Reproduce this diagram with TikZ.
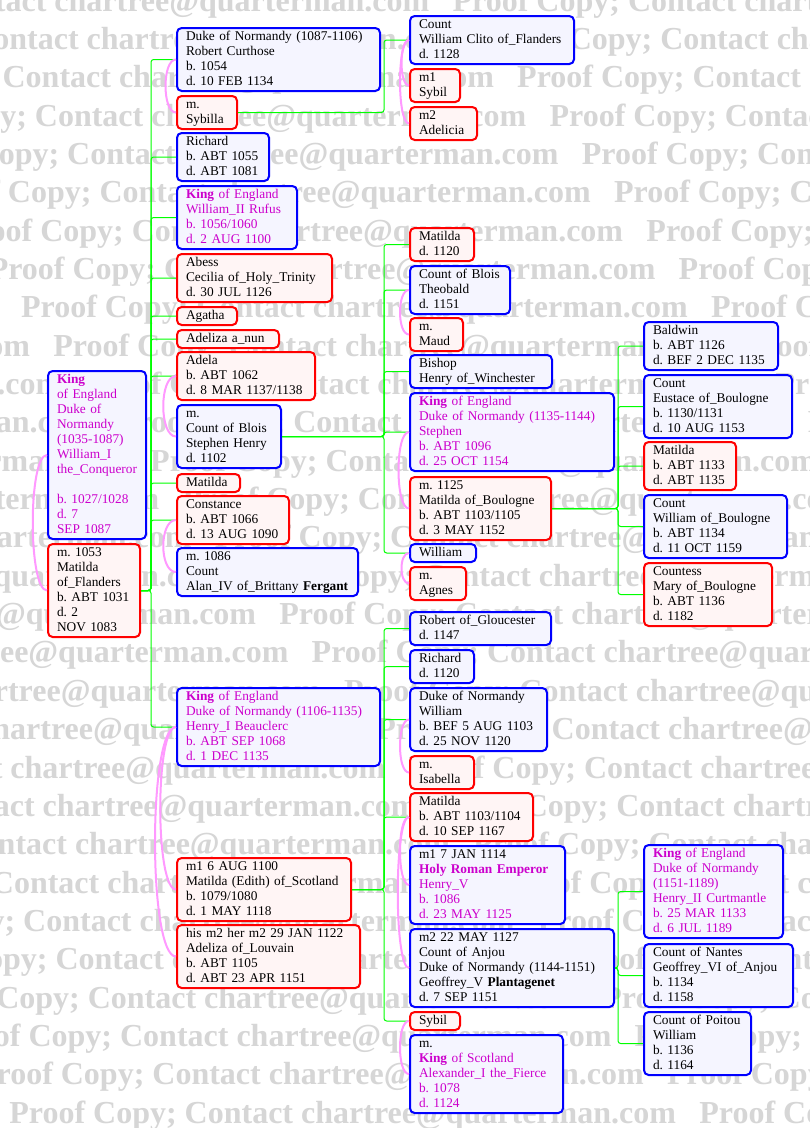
\documentclass[tikz,border=0pt]{standalone}
\usepackage{fontspec}
\setmainfont{Liberation Serif}
\usepackage{tikz}
\usetikzlibrary{positioning}

\definecolor{maleline}{RGB}{0,0,255}
\definecolor{femaleline}{RGB}{255,0,0}
\definecolor{malebg}{RGB}{245,245,255}
\definecolor{femalebg}{RGB}{255,245,245}
\definecolor{royal}{RGB}{204,0,204}
\definecolor{wedpink}{RGB}{255,153,255}
\definecolor{kingreen}{RGB}{0,255,0}
\definecolor{stampgray}{RGB}{214,214,214}

\frenchspacing
\newcommand{\stampline}{\makebox[517.5pt][l]{Proof Copy; Contact chartree@quarterman.com}}

\begin{document}
\begin{tikzpicture}[
  x=0.75pt, y=-0.75pt,
  person/.style={draw, line width=1.5pt, rounded corners=3.5pt, anchor=north west, align=left,
    inner xsep=6.75pt, inner ysep=1.125pt, font=\fontsize{10}{11.25}\selectfont\frenchspacing,
    execute at begin node=\strut, execute at end node=\strut},
  him/.style={person, draw=maleline, fill=malebg},
  her/.style={person, draw=femaleline, fill=femalebg},
  boxw/.code={\pgfmathsetmacro\boxtw{(#1-18)*0.75}\edef\boxtmp{\noexpand\tikzset{text width=\boxtw pt}}\boxtmp},
  king/.style={text=royal},
  stamp/.style={anchor=base west, inner sep=0pt, text=stampgray, font=\fontsize{24}{24}\selectfont\bfseries},
  kin/.style={draw=kingreen, line width=0.75pt, rounded corners=2pt},
  wed/.style={draw=wedpink, line width=1.5pt}
]
\useasboundingbox (0,0) rectangle (810,1128);
\fill[white] (0,0) rectangle (810,1128);

% watermark
\begin{scope}
  \clip (0,0) rectangle (810,1128);
  \foreach \j in {0,...,29}{
    \pgfmathsetmacro\wx{mod(517+(\j-2)*32.3,690)-690}
    \pgfmathsetmacro\wy{11+38.35*\j}
    \node[stamp] (wm\j) at (\wx,\wy) {\stampline\stampline\stampline};
  }
\end{scope}

% William I and Matilda
\node[him, king, boxw=98] (wilconq) at (47,370) {\textbf{King}\\of England\\Duke of\\Normandy\\(1035-1087)\\William\_I\\the\_Conqueror\\\mbox{}\\b. 1027/1028\\d. 7\\SEP 1087};
\node[her, boxw=92] (matflan) at (47,543) {m. 1053\\Matilda\\of\_Flanders\\b. ABT 1031\\d. 2\\NOV 1083};

% their children
\node[him, boxw=203] (robert) at (176,27) {Duke of Normandy (1087-1106)\\Robert Curthose\\b. 1054\\d. 10 FEB 1134};
\node[her, boxw=60] (sybilla) at (176,95) {m.\\Sybilla};
\node[him, boxw=92] (richard) at (176,132) {Richard\\b. ABT 1055\\d. ABT 1081};
\node[him, king, boxw=120] (rufus) at (176,185) {\textbf{King} of England\\William\_II Rufus\\b. 1056/1060\\d. 2 AUG 1100};
\node[her, boxw=155] (cecilia) at (176,253) {Abess\\Cecilia of\_Holy\_Trinity\\d. 30 JUL 1126};
\node[her, boxw=60] (agatha) at (176,306) {Agatha};
\node[her, boxw=102] (adeliza) at (176,329) {Adeliza a\_nun};
\node[her, boxw=138] (adela) at (176,351) {Adela\\b. ABT 1062\\d. 8 MAR 1137/1138};
\node[him, boxw=104] (sthenry) at (176,404) {m.\\Count of Blois\\Stephen Henry\\d. 1102};
\node[her, boxw=63] (matilda) at (176,473) {Matilda};
\node[her, boxw=112] (constance) at (176,495) {Constance\\b. ABT 1066\\d. 13 AUG 1090};
\node[him, boxw=181] (alan) at (176,547) {m. 1086\\Count\\Alan\_IV of\_Brittany \textbf{Fergant}};
\node[him, king, boxw=203] (henry) at (176,687) {\textbf{King} of England\\Duke of Normandy (1106-1135)\\Henry\_I Beauclerc\\b. ABT SEP 1068\\d. 1 DEC 1135};
\node[her, boxw=174] (matscot) at (176,857) {m1 6 AUG 1100\\Matilda (Edith) of\_Scotland\\b. 1079/1080\\d. 1 MAY 1118};
\node[her, boxw=183] (adlouv) at (176,924) {his m2 her m2 29 JAN 1122\\Adeliza of\_Louvain\\b. ABT 1105\\d. ABT 23 APR 1151};

% grandchildren
\node[him, boxw=164] (clito) at (409,15) {Count\\William Clito of\_Flanders\\d. 1128};
\node[her, boxw=50] (sybil) at (409,68) {m1\\Sybil};
\node[her, boxw=67] (adelicia) at (409,106) {m2\\Adelicia};
\node[her, boxw=64] (matblois) at (409,227) {Matilda\\d. 1120};
\node[him, boxw=100] (theobald) at (409,265) {Count of Blois\\Theobald\\d. 1151};
\node[her, boxw=53] (maud) at (409,317) {m.\\Maud};
\node[him, boxw=142] (winch) at (409,354) {Bishop\\Henry of\_Winchester};
\node[him, king, boxw=204] (stephen) at (409,392) {\textbf{King} of England\\Duke of Normandy (1135-1144)\\Stephen\\b. ABT 1096\\d. 25 OCT 1154};
\node[her, boxw=141] (matboul) at (409,476) {m. 1125\\Matilda of\_Boulogne\\b. ABT 1103/1105\\d. 3 MAY 1152};
\node[him, boxw=66] (william) at (409,543) {William};
\node[her, boxw=56] (agnes) at (409,566) {m.\\Agnes};
\node[him, boxw=141] (robglou) at (409,611) {Robert of\_Gloucester\\d. 1147};
\node[him, boxw=64] (richard2) at (409,649) {Richard\\d. 1120};
\node[him, boxw=137] (adelin) at (409,687) {Duke of Normandy\\William\\b. BEF 5 AUG 1103\\d. 25 NOV 1120};
\node[her, boxw=64] (isabella) at (409,755) {m.\\Isabella};
\node[her, boxw=123] (empress) at (409,792) {Matilda\\b. ABT 1103/1104\\d. 10 SEP 1167};
\node[him, king, boxw=155] (henryv) at (409,845) {\textcolor{black}{m1 7 JAN 1114}\\\textbf{Holy Roman Emperor}\\Henry\_V\\b. 1086\\d. 23 MAY 1125};
\node[him, boxw=204] (geoffrey) at (409,928) {m2 22 MAY 1127\\Count of Anjou\\Duke of Normandy (1144-1151)\\Geoffrey\_V \textbf{Plantagenet}\\d. 7 SEP 1151};
\node[her, boxw=50] (sybil2) at (409,1011) {Sybil};
\node[him, king, boxw=153] (alex) at (409,1034) {\textcolor{black}{m.}\\\textbf{King} of Scotland\\Alexander\_I the\_Fierce\\b. 1078\\d. 1124};

% great-grandchildren
\node[him, boxw=134] (baldwin) at (643,321) {Baldwin\\b. ABT 1126\\d. BEF 2 DEC 1135};
\node[him, boxw=148] (eustace) at (643,374) {Count\\Eustace of\_Boulogne\\b. 1130/1131\\d. 10 AUG 1153};
\node[her, boxw=92] (matilda4) at (643,441) {Matilda\\b. ABT 1133\\d. ABT 1135};
\node[him, boxw=143] (wilboul) at (643,494) {Count\\William of\_Boulogne\\b. ABT 1134\\d. 11 OCT 1159};
\node[her, boxw=128] (mary) at (643,562) {Countess\\Mary of\_Boulogne\\b. ABT 1136\\d. 1182};
\node[him, king, boxw=139] (henryii) at (643,844) {\textbf{King} of England\\Duke of Normandy\\(1151-1189)\\Henry\_II Curtmantle\\b. 25 MAR 1133\\d. 6 JUL 1189};
\node[him, boxw=149] (geoffvi) at (643,943) {Count of Nantes\\Geoffrey\_VI of\_Anjou\\b. 1134\\d. 1158};
\node[him, boxw=107] (wilpoit) at (643,1011) {Count of Poitou\\William\\b. 1136\\d. 1164};

% descent lines
\coordinate (trunkA) at (151,0);
\coordinate (trunkB) at (384,0);
\coordinate (trunkC) at (618,0);
\foreach \c in {robert,richard,rufus,cecilia,agatha,adeliza,adela,matilda,constance,henry}
  \draw[kin] (matflan.east) -- (matflan.east -| trunkA) |- (\c.west);
\draw[kin] (sybilla.east) -- (sybilla.east -| trunkB) |- (clito.west);
\foreach \c in {matblois,theobald,winch,stephen,william}
  \draw[kin] (sthenry.east) -- (sthenry.east -| trunkB) |- (\c.west);
\foreach \c in {baldwin,eustace,matilda4,wilboul,mary}
  \draw[kin] (matboul.east) -- (matboul.east -| trunkC) |- (\c.west);
\foreach \c in {robglou,richard2,adelin,empress,sybil2}
  \draw[kin] (matscot.east) -- (matscot.east -| trunkB) |- (\c.west);
\foreach \c in {henryii,geoffvi,wilpoit}
  \draw[kin] (geoffrey.east) -- (geoffrey.east -| trunkC) |- (\c.west);

% marriages
\draw[wed] (wilconq.west) .. controls +(-19,0) and +(-19,0) .. (matflan.west);
\draw[wed] (robert.west) .. controls +(-14,0) and +(-14,0) .. (sybilla.west);
\draw[wed] (clito.west) .. controls +(-10,0) and +(-10,0) .. (sybil.west);
\draw[wed] (clito.west) .. controls +(-12,0) and +(-12,0) .. (adelicia.west);
\draw[wed] (adela.west) .. controls +(-17,0) and +(-17,0) .. (sthenry.west);
\draw[wed] (constance.west) .. controls +(-17,0) and +(-17,0) .. (alan.west);
\draw[wed] (henry.west) .. controls +(-21,0) and +(-21,0) .. (matscot.west);
\draw[wed] (henry.west) .. controls +(-28,0) and +(-28,0) .. (adlouv.west);
\draw[wed] (theobald.west) .. controls +(-12,0) and +(-12,0) .. (maud.west);
\draw[wed] (stephen.west) .. controls +(-14,0) and +(-14,0) .. (matboul.west);
\draw[wed] (william.west) .. controls +(-10,0) and +(-10,0) .. (agnes.west);
\draw[wed] (adelin.west) .. controls +(-12,0) and +(-12,0) .. (isabella.west);
\draw[wed] (empress.west) .. controls +(-12,0) and +(-12,0) .. (henryv.west);
\draw[wed] (empress.west) .. controls +(-15,0) and +(-15,0) .. (geoffrey.west);
\draw[wed] (sybil2.west) .. controls +(-12,0) and +(-12,0) .. (alex.west);
\end{tikzpicture}
\end{document}
